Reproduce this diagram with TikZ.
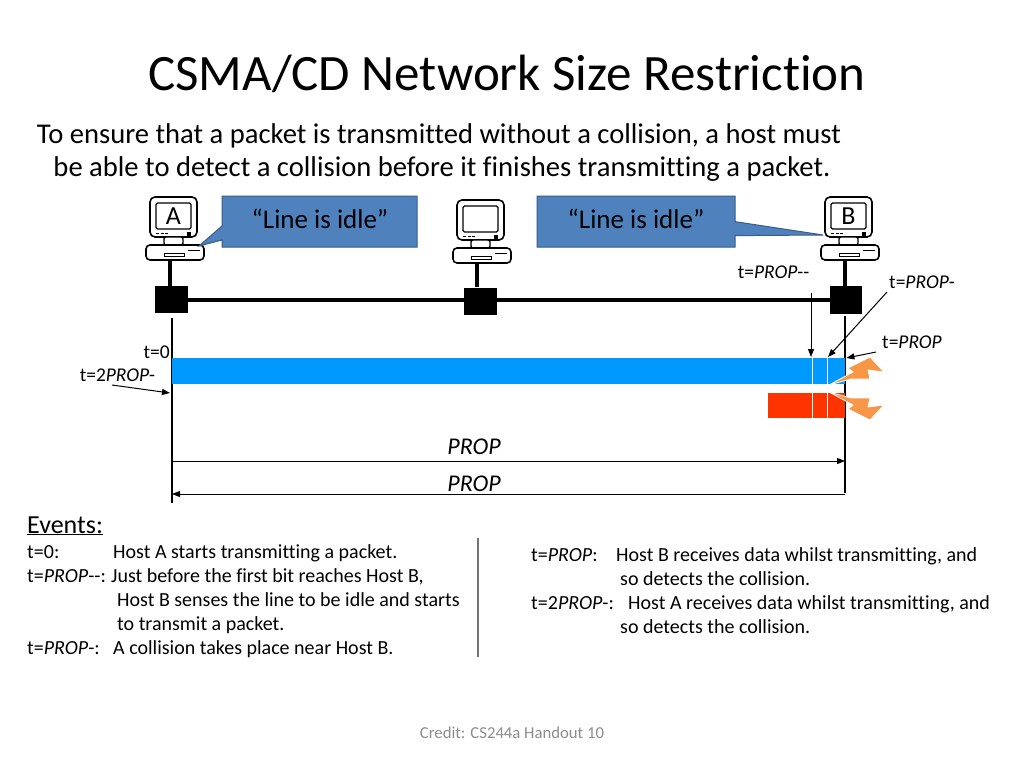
\documentclass[tikz,border=0pt]{standalone}
\usepackage{fontspec}
\setmainfont{Carlito}[Ligatures={NoCommon}]
\usetikzlibrary{arrows.meta,shapes.callouts,calc}
\definecolor{boxblue}{HTML}{4F81BD}
\definecolor{boxedge}{HTML}{385D8A}
\definecolor{barblue}{HTML}{0099FF}
\definecolor{barred}{HTML}{FF3300}
\definecolor{boltc}{HTML}{F79646}
\definecolor{creditc}{HTML}{8C8C8C}
\newcommand{\fsz}[2]{\fontsize{#1}{#2}\selectfont}
\tikzset{
  computer/.pic={
    \draw[line width=1.6pt, rounded corners=5pt, fill=white] (0,0) rectangle (47,40);
    \draw[line width=1.2pt, rounded corners=1.5pt] (6,6) rectangle (41,32);
    \node[font=\fsz{26}{26}, inner sep=0pt] (-lbl) at (23.5,19.5) {#1};
    \draw[line width=1pt] (6,36.5)--(9,36.5) (10.5,36.5)--(13.5,36.5) (15,36.5)--(18,36.5);
    \fill (37,35) rectangle (41,38.5);
    \draw[line width=1.4pt, rounded corners=2pt, fill=white] (14,40) rectangle (33,48);
    \draw[line width=1.6pt, rounded corners=4pt, fill=white] (-4,48) rectangle (54,63);
    \draw[line width=1pt] (14,56) rectangle (34,59);
    \draw[line width=1pt] (38,53)--(50,53);
    \coordinate (-wire) at (20,63);
  },
  tap/.style={fill=black, inner sep=0pt, minimum width=33pt, minimum height=27pt},
  bus/.style={line width=4pt},
  idle/.style={rectangle callout, fill=boxblue, draw=boxedge, line width=1pt,
    minimum width=195pt, minimum height=51pt, callout pointer width=14pt, inner sep=0pt},
  idletext/.style={font=\fsz{27}{27}, inner sep=0pt},
  arr/.style={-{Triangle[length=8pt,width=6pt]}, line width=1pt},
  tl/.style={font=\fsz{19.5}{19.5}, inner sep=0pt},
  evt/.style={font=\fsz{20}{22}, inner sep=0pt, anchor=base west},
  boltshape/.style={fill=boltc, draw=white, line width=0.8pt},
}
\begin{document}
\begin{tikzpicture}[x=1pt,y=-1pt]
\useasboundingbox[fill=white] (0,0) rectangle (1024,768);

% title and intro
\node[font=\fsz{51}{51}, inner sep=0pt, anchor=base] (title) at (507,90) {CSMA/CD Network Size Restriction};
\node[font=\fsz{28.6}{33}, inner sep=0pt, anchor=base] (intro1) at (439,143)
  {To ensure that a packet is transmitted without a collision, a host must};
\node[font=\fsz{28.6}{33}, inner sep=0pt, anchor=base] (intro2) at (442,176)
  {be able to detect a collision before it finishes transmitting a packet.};

% computers
\pic (A) at (150,197) {computer=A};
\pic (M) at (457,200) {computer=};
\pic (B) at (825,197) {computer=B};

% taps
\node[tap] (tapA) at (171.5,299.5) {};
\node[tap] (tapM) at (480.5,301) {};
\node[tap, minimum width=32pt, minimum height=28pt] (tapB) at (846,300) {};
\draw[bus] (A-wire) -- (A-wire |- tapA.north);
\draw[bus] (M-wire) -- (M-wire |- tapM.north);
\draw[bus] (B-wire) -- (B-wire |- tapB.north);
\draw[bus] (tapA.east) -- (tapA.east -| tapB.west);

% callouts
\coordinate (tipA) at (199,246);
\coordinate (tipB) at (823,235);
\node[idle, callout absolute pointer={(tipA)}] (idleA) at (319.5,221.5) {};
\node[idle, minimum width=198pt, callout absolute pointer={(tipB)}] (idleB) at (636,221.5) {};
\node[idletext] (idleAt) at (320,218.5) {“Line is idle”};
\node[idletext] (idleBt) at (636,218.5) {“Line is idle”};

% time lines
\coordinate (tA0) at (172,318);
\coordinate (tA1) at (172,503);
\coordinate (tB0) at (845,316);
\coordinate (tB1) at (845,493);
\draw[line width=1.1pt] (tA0) -- (tA1);
\draw[line width=1.1pt] (tB0) -- (tB1);

% bars
\node[fill=barblue, inner sep=0pt, minimum width=673pt, minimum height=26pt, anchor=north west] (blue) at (172,358) {};
\node[fill=barred, inner sep=0pt, minimum width=77pt, minimum height=25pt, anchor=north west] (red) at (768,393) {};
\draw[white, line width=0.6pt] (812,358) -- (812,384) (827,358) -- (827,384)
  (812,393) -- (812,418) (827,393) -- (827,418);

% bolts
\path[boltshape] (829,385) -- (853,372) -- (848,368) -- (870,357) -- (884,372)
  -- (868,370) -- (870,379) -- (851,379) -- cycle;
\path[boltshape] (829,392) -- (853,405) -- (848,409) -- (870,420) -- (884,405)
  -- (868,407) -- (870,398) -- (851,398) -- cycle;

% time labels and arrows
\node[tl] (lPpp) at (773.5,272) {t=\textit{PROP}-{}-};
\node[tl] (lPp) at (922,282) {t=\textit{PROP}-};
\node[tl] (lP) at (912,342) {t=\textit{PROP}};
\node[tl, anchor=east] (l0) at (170,352) {t=0};
\node[tl] (l2P) at (117.5,375) {t=2\textit{PROP}-};
\coordinate (aPpp0) at (811,293);
\coordinate (aPpp1) at (811,357);
\coordinate (aPp0) at (887,292);
\coordinate (aPp1) at (828,357);
\coordinate (aP0) at (876,352);
\coordinate (a2P0) at (112,385);
\coordinate (a2P1) at (170,393);
\draw[arr] (aPpp0) -- (aPpp1);
\draw[arr] (aPp0) -- (aPp1);
\draw[arr] (aP0) -- ($(blue.north east)+(1,0)$);
\draw[arr] (a2P0) -- (a2P1);

% PROP arrows
\coordinate (r1a) at (172,461);
\coordinate (r1b) at (845,461);
\coordinate (r2a) at (845,494);
\coordinate (r2b) at (172,494);
\draw[arr] (r1a) -- (r1b);
\draw[arr] (r2a) -- (r2b);
\node[font=\fsz{24}{24}\itshape, inner sep=0pt] (prop1) at (474,447) {PROP};
\node[font=\fsz{24}{24}\itshape, inner sep=0pt] (prop2) at (474,484) {PROP};

% events
\node[font=\fsz{26}{26}, inner sep=0pt, anchor=base west] (ev) at (27,533) {\underline{Events:}};
\node[evt] (e1a) at (27,558) {t=0:};
\node[evt] (e1b) at (113,558) {Host A starts transmitting a packet.};
\node[evt] (e2a) at (27,582) {t=\textit{PROP}-{}-:};
\node[evt] (e2b) at (111,582) {Just before the first bit reaches Host B,};
\node[evt] (e3b) at (117,606) {Host B senses the line to be idle and starts};
\node[evt] (e4b) at (117,630) {to transmit a packet.};
\node[evt] (e5a) at (27,654) {t=\textit{PROP}-:};
\node[evt] (e5b) at (113,654) {A collision takes place near Host B.};

\coordinate (d0) at (478,538);
\coordinate (d1) at (478,657);
\draw[line width=1.1pt, black!55] (d0) -- (d1);

\node[evt] (f1a) at (531,561) {t=\textit{PROP}:};
\node[evt] (f1b) at (616,561) {Host B receives data whilst transmitting, and};
\node[evt] (f2b) at (620,585) {so detects the collision.};
\node[evt] (f3a) at (531,609) {t=2\textit{PROP}-:};
\node[evt] (f3b) at (628,609) {Host A receives data whilst transmitting, and};
\node[evt] (f4b) at (620,633) {so detects the collision.};

\node[font=\fsz{16.7}{16.7}, text=creditc, inner sep=0pt] (credit) at (512,733) {Credit: CS244a Handout 10};
\end{tikzpicture}
\end{document}
